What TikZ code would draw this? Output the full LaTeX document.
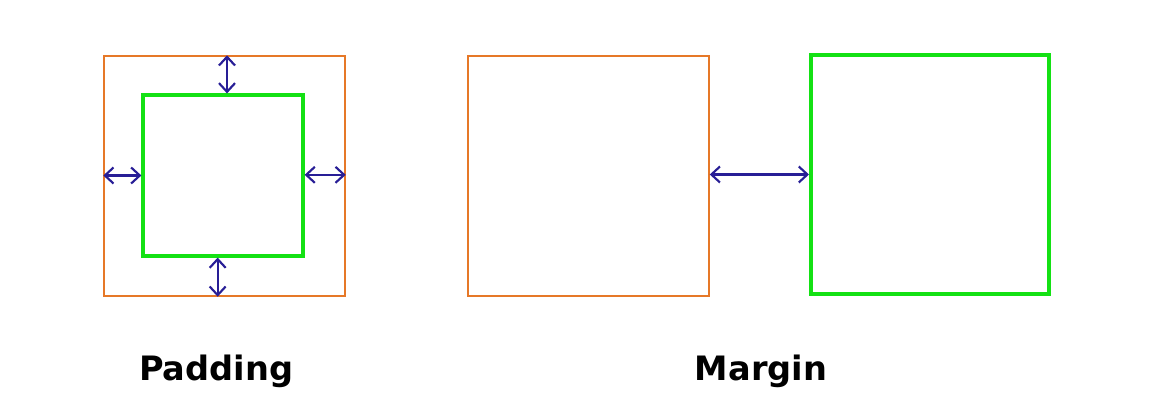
\documentclass[tikz,border=0pt]{standalone}
\usepackage{fontspec}
\setmainfont{DejaVu Sans}
\usetikzlibrary{positioning,arrows.meta}

\definecolor{boxorange}{RGB}{230,120,40}
\definecolor{boxgreen}{RGB}{20,225,20}
\definecolor{arrowblue}{RGB}{40,30,150}

\begin{document}
\begin{tikzpicture}[
  x=0.75pt, y=-0.75pt,
  outerbox/.style={draw=boxorange, line width=1.1pt, inner sep=0pt,
                   minimum width=180.75pt, minimum height=180pt},
  innerbox/.style={draw=boxgreen, line width=2.4pt, inner sep=0pt,
                   minimum width=120pt, minimum height=120.75pt},
  bigbox/.style={draw=boxgreen, line width=3pt, inner sep=0pt,
                 minimum width=178.5pt, minimum height=179.25pt},
  dim/.style={draw=arrowblue, line width=1.6pt,
              {Straight Barb[length=6.5pt,width=12pt]}-{Straight Barb[length=6.5pt,width=12pt]}},
  caption/.style={font=\bfseries\fontsize{25.2}{30}\selectfont, anchor=base}
]
\useasboundingbox (0,0) rectangle (1157,420);

% padding
\node[outerbox] (pad) at (224.5,176) {};
\node[innerbox] (content) at (223,175.5) {};
\draw[dim] ([xshift=3pt]pad.north -| content.north) -- ([xshift=3pt]content.north);
\draw[dim] ([xshift=-4pt]content.south) -- ([xshift=-4pt]content.south |- pad.south);
\draw[dim] (pad.west |- content.west) -- (content.west);
\draw[dim] ([yshift=0.5pt]content.east) -- ([yshift=0.5pt]content.east -| pad.east);
\node[caption] (padlabel) at (216,381) {Padding};

% margin
\node[outerbox] (left) at (588.5,176) {};
\node[bigbox] (right) at (930,174.5) {};
\draw[dim] (left.east |- right.west) -- (right.west);
\node[caption] (marginlabel) at (761,381) {Margin};

\end{tikzpicture}
\end{document}
